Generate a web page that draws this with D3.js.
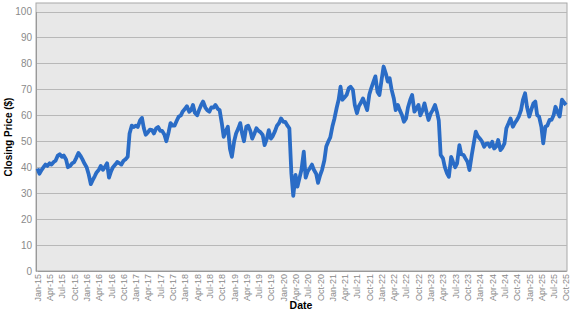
<!DOCTYPE html>
<html>
<head>
<meta charset="utf-8">
<script src="https://cdn.jsdelivr.net/npm/d3@7"></script>
<style>
  body { margin: 0; background: #fff; }
  svg { font-family: "Liberation Sans", Arial, sans-serif; }
</style>
</head>
<body>
<div id="chart"></div>
<script>
// closing prices, two readings a month (1st and 15th), Jan-15 .. Oct-25
var years = [2015, 2016, 2017, 2018, 2019, 2020, 2021, 2022, 2023, 2024, 2025];
var closes = [
  // 2015
  39.5, 37.5, 39, 40, 41, 40.5, 41.5, 41, 42, 42.5, 44.5, 45,
  44, 44.5, 43, 40, 40.5, 41.5, 42, 43.5, 45.5, 44.5, 43, 41.5,
  // 2016
  40, 37.5, 33.5, 35, 36.5, 38, 39, 40.5, 39, 40, 41.5, 36,
  38.5, 40, 41, 42, 41.5, 41, 42.5, 43, 44, 53, 56, 55.5,
  // 2017
  56, 55.5, 58, 59, 55, 52.5, 53.5, 54.5, 54.3, 53, 55, 55.5,
  54, 54, 52.5, 50, 53.5, 57, 56, 56, 58, 59.5, 60, 61.5,
  // 2018
  62.5, 63.5, 61.4, 62, 64, 61, 60, 62, 64, 65.3, 63, 62,
  61.4, 63, 63, 64, 62.5, 62, 57, 51.7, 54, 55.6, 47, 44,
  // 2019
  50, 53, 55, 57, 53, 50, 55.6, 56, 54, 51, 53, 55,
  54, 53.5, 52.4, 48.5, 51, 54.3, 51, 52, 54, 56, 57, 58.8,
  // 2020
  57.5, 57.5, 56, 55, 37.5, 29, 37, 32.5, 36, 39, 46, 36,
  38.5, 39.5, 41, 39, 37.5, 34, 37, 39, 42.7, 48, 50, 51.5,
  // 2021
  56, 58.8, 63, 66, 71, 66, 67, 67.8, 70.4, 71, 69.8, 64,
  60.8, 63.5, 65, 66.5, 64, 62, 68, 70.4, 73, 75, 69, 67.8,
  // 2022
  74, 78.8, 76, 73, 74.3, 70, 66.5, 62, 64, 62, 60, 57.5,
  58.8, 63, 66, 67.8, 61.4, 62.5, 64, 60, 62, 64.6, 61, 58.2,
  // 2023
  60.8, 62, 64, 61.4, 58, 44.7, 43.4, 40, 37.6, 36.3, 44, 42,
  40, 41.5, 48.5, 45, 44.7, 43.4, 42, 38.9, 44.7, 49, 53.7, 52,
  // 2024
  51, 50, 47.9, 49, 49.2, 47.9, 49.8, 47.2, 48, 50.5, 46.6, 47.5,
  49.2, 55, 57, 58.8, 55.6, 56.9, 58.2, 59.5, 62, 66, 68.5, 63.3,
  // 2025
  59.5, 62, 64.6, 65.3, 60, 59.5, 55.6, 49.2, 55.6, 56, 58.2, 58.2,
  60, 63.3, 61, 59.5, 66, 65, 64
];
var yTicks = [0, 10, 20, 30, 40, 50, 60, 70, 80, 90, 100];
var monthNames = ["Jan", "Apr", "Jul", "Oct"];

// build dates: 1st and 15th of each month
var dates = [];
years.forEach(function (yr) {
    for (var mo = 0; mo < 12; mo++) {
        dates.push(new Date(yr, mo, 1));
        dates.push(new Date(yr, mo, 15));
    }
});
var data = closes.map(function (c, i) { return { date: dates[i], close: c }; });

var W = 575, H = 313;
var plot = { left: 36, right: 567, top: 3, bottom: 271 };

var svg = d3.select("#chart")
    .append("svg")
    .attr("width", W)
    .attr("height", H);

var x = d3.scaleTime()
    .domain([new Date(2015, 0, 1), new Date(2025, 9, 1)])
    .range([37.5, 566]);

var y = d3.scaleLinear()
    .domain([0, 100])
    .range([plot.bottom, 11.5]);

// plot background
svg.append("rect")
    .attr("x", plot.left)
    .attr("y", plot.top)
    .attr("width", plot.right - plot.left)
    .attr("height", plot.bottom - plot.top)
    .attr("fill", "#e8e8e8")
    .attr("stroke", "#a8a8a8")
    .attr("stroke-width", 1);

// horizontal grid
svg.append("g")
    .selectAll("line")
    .data(yTicks)
    .enter()
    .append("line")
    .attr("x1", plot.left)
    .attr("x2", plot.right)
    .attr("y1", function (d) { return Math.round(y(d)) + 0.5; })
    .attr("y2", function (d) { return Math.round(y(d)) + 0.5; })
    .attr("stroke", "#b8b8b8")
    .attr("stroke-width", 1);

// y axis
var yAxis = svg.append("g")
    .attr("transform", "translate(" + plot.left + ",0)")
    .call(d3.axisLeft(y).tickValues(yTicks).tickSize(0).tickPadding(4));
yAxis.select(".domain").attr("stroke", "#999");
yAxis.selectAll("text")
    .attr("fill", "#8a8a8a")
    .style("font-size", "10px");

// x axis, quarterly labels
var xTicks = d3.timeMonth.every(3).range(new Date(2015, 0, 1), new Date(2025, 9, 2));
var xAxis = svg.append("g")
    .attr("transform", "translate(0," + plot.bottom + ")")
    .call(d3.axisBottom(x).tickValues(xTicks).tickSize(0)
        .tickFormat(function (d) {
            return monthNames[d.getMonth() / 3] + "-" + String(d.getFullYear()).slice(2);
        }));
xAxis.select(".domain").attr("stroke", "#999");
xAxis.selectAll("text")
    .attr("fill", "#8a8a8a")
    .style("font-size", "9px")
    .attr("transform", "rotate(-90)")
    .attr("text-anchor", "end")
    .attr("x", -3)
    .attr("y", 0)
    .attr("dy", "0.32em");

// price line
svg.append("path")
    .datum(data)
    .attr("fill", "none")
    .attr("stroke", "#2a6cc6")
    .attr("stroke-width", 3.8)
    .attr("stroke-linejoin", "round")
    .attr("d", d3.line()
        .x(function (d) { return x(d.date); })
        .y(function (d) { return y(d.close); }));

// axis titles
svg.append("text")
    .attr("x", 301)
    .attr("y", 309)
    .attr("text-anchor", "middle")
    .style("font-size", "10.5px")
    .style("font-weight", "bold")
    .text("Date");

svg.append("text")
    .attr("transform", "translate(12," + ((plot.top + plot.bottom) / 2) + ") rotate(-90)")
    .attr("text-anchor", "middle")
    .style("font-size", "10px")
    .style("font-weight", "bold")
    .text("Closing Price ($)");
</script>
</body>
</html>
